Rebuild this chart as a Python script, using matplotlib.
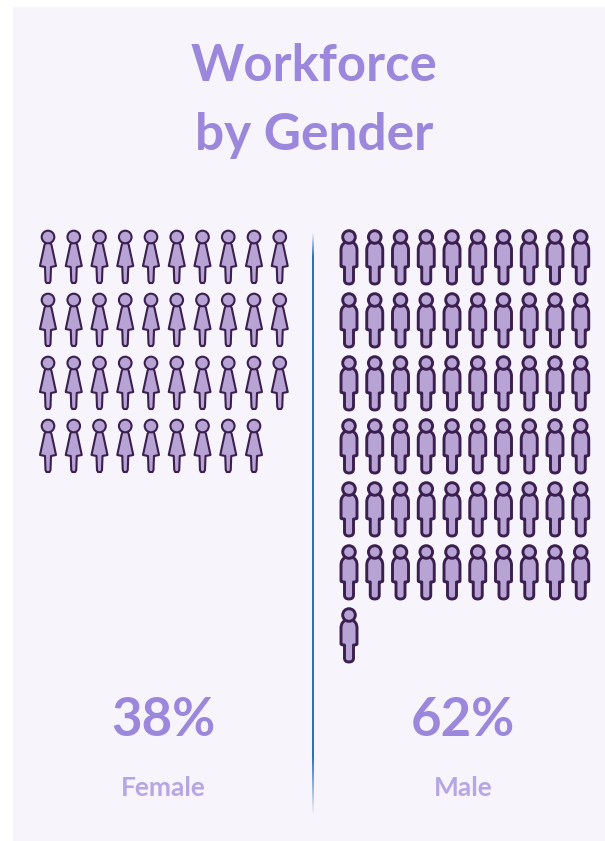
import numpy as np
import matplotlib
matplotlib.use("Agg")
import matplotlib.pyplot as plt
from matplotlib.path import Path
from matplotlib.patches import PathPatch, Circle, Rectangle
from matplotlib.colors import to_rgb

# Data
title_lines = ["Workforce", "by Gender"]
groups = ["Female", "Male"]
percents = [38, 62]
icon_counts = [39, 61]

plt.rcParams['font.family'] = ['Lato', 'DejaVu Sans']

fig = plt.figure(figsize=(6.05, 8.41), dpi=100, facecolor='white')
ax = fig.add_axes([0, 0, 1, 1])
ax.set_xlim(0, 605)
ax.set_ylim(841, 0)
ax.axis('off')

# Background panel
ax.add_patch(Rectangle((13, 7), 592, 834, facecolor='#f7f4fc', edgecolor='none', zorder=0))

TITLE = '#9b87dc'
LABEL = '#b5a7e4'
FILL = '#b7a3d4'
EDGE = '#3a1f4f'


# Icon outlines, relative to the head centre
def female_body():
    verts = [(-2, 5), (-3.5, 8), (-8, 29), (-3, 30), (-2.5, 44), (-1.5, 46), (1.5, 46),
             (2.5, 44), (3, 30), (8, 29), (3.5, 8), (2, 5), (-2, 5)]
    return Path(verts, closed=True)


def male_body():
    c3, l = Path.CURVE3, Path.LINETO
    verts = [(-3, 5), (-8, 7), (-8, 13), (-8, 29), (-8, 30), (-4.5, 30), (-4.5, 43), (-4.5, 47), (0, 47),
             (4.5, 47), (4.5, 43), (4.5, 30), (8, 30), (8, 29), (8, 13), (8, 7), (3, 5), (-3, 5)]
    codes = [Path.MOVETO, c3, c3, l, c3, c3, l, c3, c3, c3, c3, l, c3, c3, l, c3, c3, l]
    return Path(verts, codes)


def draw_person(x, y, body, lw):
    trans = matplotlib.transforms.Affine2D().translate(x, y) + ax.transData
    ax.add_patch(PathPatch(body, facecolor=FILL, edgecolor=EDGE, lw=lw, joinstyle='round', transform=trans, zorder=2))
    ax.add_patch(Circle((x, y), 6.3, facecolor=FILL, edgecolor=EDGE, lw=lw, zorder=3))


def draw_group(count, x0, body, lw):
    for i in range(count):
        row, col = divmod(i, 10)
        draw_person(x0 + col * 25.75, 237 + row * 63, body, lw)


draw_group(icon_counts[0], 48, female_body(), 1.5)
draw_group(icon_counts[1], 349, male_body(), 2.1)

# Divider line with faded ends
n = 300
rgba = np.zeros((n, 1, 4))
rgba[:, :, :3] = to_rgb('#2f6fc0')
t = np.linspace(0, 1, n)
rgba[:, 0, 3] = np.clip(np.minimum(t / 0.04, (1 - t) / 0.1), 0, 1)
ax.imshow(rgba, extent=(311.5, 313, 816, 232), aspect='auto', zorder=1, interpolation='bilinear')
ax.set_xlim(0, 605)
ax.set_ylim(841, 0)

# Text
ax.text(314, 66, title_lines[0], color=TITLE, fontsize=36.5, fontweight='bold', ha='center', va='center')
ax.text(314, 135, title_lines[1], color=TITLE, fontsize=37, fontweight='bold', ha='center', va='center')

for x, pct, name in zip([163, 463], percents, groups):
    ax.text(x, 720, f"{pct}%", color=TITLE, fontsize=38, fontweight='bold', ha='center', va='center')
    ax.text(x, 788, name, color=LABEL, fontsize=19, fontweight='bold', ha='center', va='center')

fig.savefig('out.png', dpi=100)
